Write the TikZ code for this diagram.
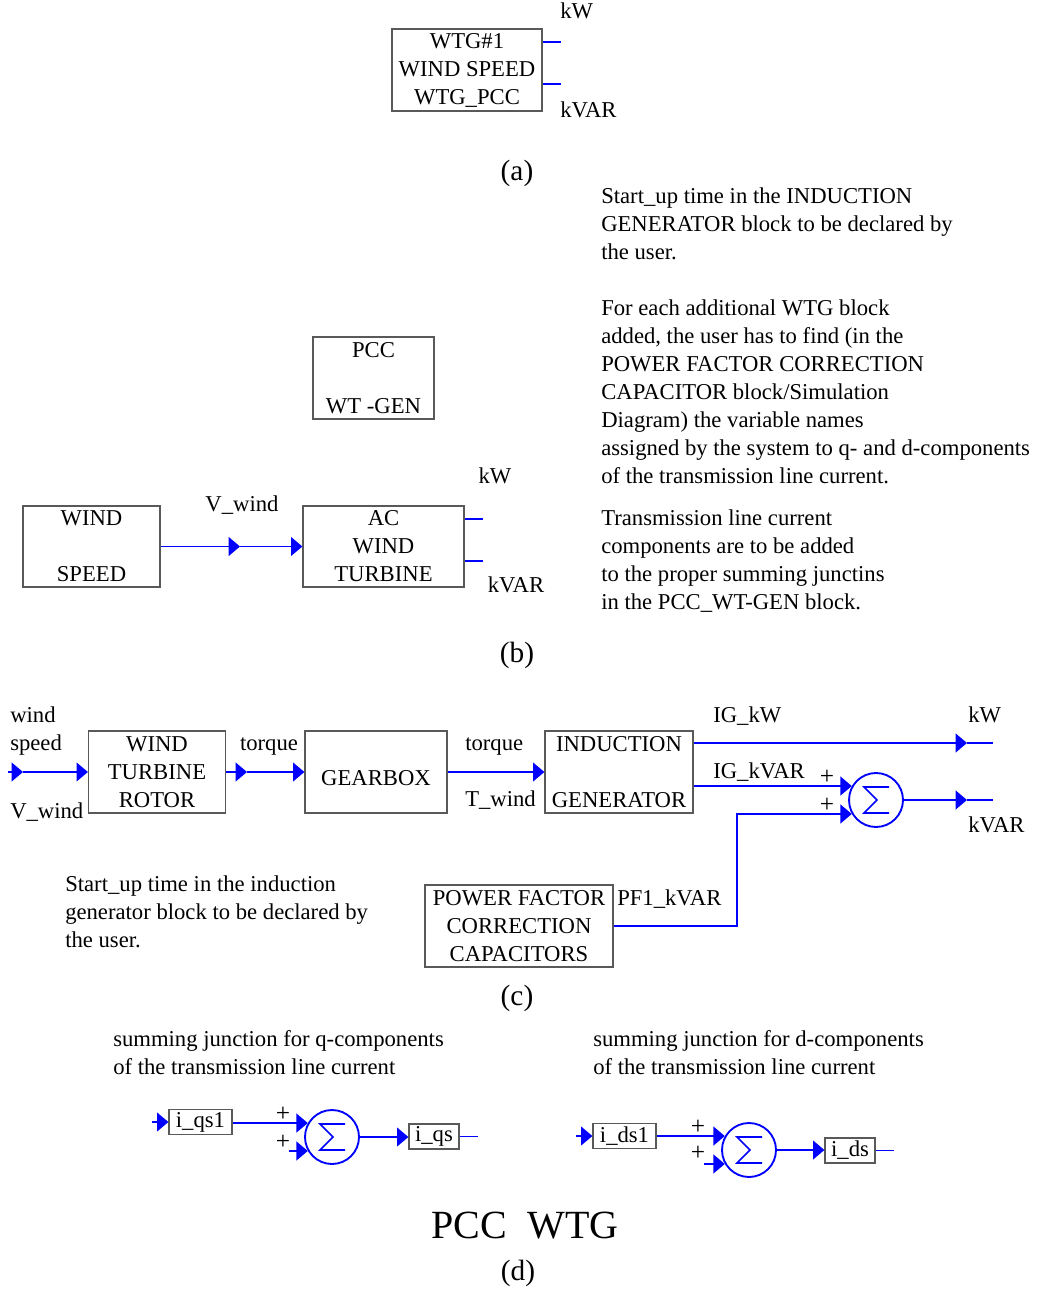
\documentclass[tikz,border=0pt]{standalone}
\usepackage{fontspec}
\setmainfont{Liberation Serif}
\usepackage{xcolor}
\definecolor{sigblue}{RGB}{0, 0, 255}
\usepackage{tikz}
\usetikzlibrary{arrows.meta}

\newdimen\px
\px=0.75pt
\newcommand{\txt}{\fontsize{17}{21}\selectfont}
\newcommand{\sigmamark}[1]{%
  \draw[sigblue, line width=1.2pt, line join=miter]
    ([shift={(13,-13)}]#1.center) -- ([shift={(-12,-13)}]#1.center)
    -- ([shift={(1,0)}]#1.center) -- ([shift={(-12,13)}]#1.center)
    -- ([shift={(13,13)}]#1.center);}

\tikzset{
  every node/.style={font=\txt, inner sep=0pt},
  blk/.style={draw=black!65, line width=0.9pt, align=center},
  sig/.style={sigblue, line width=1.4pt},
  tip/.style={-{Triangle[length=8.5pt,width=14pt]}},
  sumj/.style={circle, draw=sigblue, line width=1.4pt, minimum size=54\px},
  note/.style={align=left, anchor=north west},
  plus/.style={font=\fontsize{19}{21}\selectfont},
  partlabel/.style={font=\fontsize{22}{26}\selectfont},
}

\begin{document}
\begin{tikzpicture}[x=0.75pt, y=-0.75pt]
    \useasboundingbox (0,0) rectangle (1039,1291);

    % (a) WTG block
    \node[blk, minimum width=150\px, minimum height=82\px] (wtg) at (467,70) {WTG\#1\\WIND SPEED\\WTG\_PCC};
    \draw[sig] (wtg.east |- 0,42) -- ++(18,0);
    \draw[sig] (wtg.east |- 0,84) -- ++(18,0);
    \node[anchor=base west] (kwa) at (560,19) {kW};
    \node[anchor=base west] (kvara) at (560,118) {kVAR};
    \node[partlabel] (capa) at (517,173) {(a)};

    % Notes on the right
    \node[note] (notestart) at (601,188) {Start\_up time in the INDUCTION\\GENERATOR block to be declared by\\the user.};
    \node[note] (notepf) at (601,300) {For each additional WTG block\\added, the user has to find (in the\\POWER FACTOR CORRECTION\\CAPACITOR block/Simulation\\Diagram) the variable names\\assigned by the system to q- and d-components\\of the transmission line current.};
    \node[note] (notetl) at (601,510) {Transmission line current\\components are to be added\\to the proper summing junctins\\in the PCC\_WT-GEN block.};

    % (b) wind speed and AC wind turbine
    \node[blk, minimum width=121\px, minimum height=82\px] (pcc) at (373.5,378) {PCC\\[21pt]WT -GEN};
    \node[blk, minimum width=137\px, minimum height=81\px] (ws) at (91.5,546.5) {WIND\\[21pt]SPEED};
    \node[blk, minimum width=161\px, minimum height=81\px] (acwt) at (383.5,546.5) {AC\\WIND\\TURBINE};
    \coordinate (vwm) at (240,546.5);
    \draw[sig, tip] (ws.east) -- (vwm);
    \draw[sig, tip] (vwm) -- (acwt.west);
    \node[anchor=base] (vwb) at (242,511) {V\_wind};
    \draw[sig] (acwt.east |- 0,519) -- ++(18,0);
    \draw[sig] (acwt.east |- 0,561) -- ++(18,0);
    \node[anchor=base] (kwb) at (495,483) {kW};
    \node[anchor=base] (kvarb) at (516,592) {kVAR};
    \node[partlabel] (capb) at (517,655) {(b)};

    % (c) turbine chain
    \node[anchor=base west] (windl) at (10,722) {wind};
    \node[anchor=base west] (speedl) at (10,750) {speed};
    \node[anchor=base west] (vwc) at (10,818) {V\_wind};
    \node[blk, minimum width=137\px, minimum height=82\px] (wtr) at (157,772) {WIND\\TURBINE\\ROTOR};
    \node[blk, minimum width=142\px, minimum height=82\px] (gb) at (376,772) {\mbox{}\\GEARBOX};
    \node[blk, minimum width=148\px, minimum height=82\px] (ig) at (619,772) {INDUCTION\\[21pt]GENERATOR};
    \node[blk, minimum width=188\px, minimum height=82\px] (pfc) at (519,926) {POWER FACTOR\\CORRECTION\\CAPACITORS};
    \node[sumj] (sk) at (876,800) {};
    \sigmamark{sk}

    \coordinate (win) at (8,772);
    \coordinate (winm) at (23,772);
    \draw[sig, tip] (win) -- (winm);
    \draw[sig, tip] (winm) -- (wtr.west);
    \coordinate (tqm) at (247,772);
    \draw[sig, tip] (wtr.east) -- (tqm);
    \draw[sig, tip] (tqm) -- (gb.west);
    \draw[sig, tip] (gb.east) -- (ig.west);
    \node[anchor=base] (tq1) at (269,750) {torque};
    \node[anchor=base west] (tq2) at (465,750) {torque};
    \node[anchor=base west] (twind) at (465,806) {T\_wind};

    \coordinate (kwm) at (967,743);
    \draw[sig, tip] (ig.east |- kwm) -- (kwm);
    \draw[sig] (kwm) -- ++(26,0);
    \draw[sig, tip] (ig.east |- sk.150) -- (sk.150);
    \coordinate (pfx) at (737,926);
    \draw[sig, tip] (pfc.east) -- (pfx) |- (sk.210);
    \coordinate (kvm) at (967,800);
    \draw[sig, tip] (sk.east) -- (kvm);
    \draw[sig] (kvm) -- ++(26,0);

    \node[anchor=base west] (igkw) at (713,722) {IG\_kW};
    \node[anchor=base west] (igkvar) at (713,778) {IG\_kVAR};
    \node[anchor=base west] (kwc) at (968,722) {kW};
    \node[anchor=base west] (kvarc) at (968,832) {kVAR};
    \node[anchor=base west] (pfkvar) at (617,905) {PF1\_kVAR};
    \node[plus] (pk1) at (827,777) {+};
    \node[plus] (pk2) at (827,805) {+};
    \node[note] (notegen) at (65,875) {Start\_up time in the induction\\generator block to be declared by\\the user.};
    \node[partlabel] (capc) at (517,998) {(c)};

    % (d) summing junctions
    \node[note] (noteq) at (113,1030) {summing junction for q-components\\of the transmission line current};
    \node[note] (noted) at (593,1030) {summing junction for d-components\\of the transmission line current};

    \node[blk, minimum width=63\px, minimum height=25\px] (qs1) at (200.5,1122) {i\_qs1};
    \node[blk, minimum width=50\px, minimum height=25\px] (qs) at (434,1136.5) {i\_qs};
    \node[sumj] (sq) at (332,1137) {};
    \sigmamark{sq}
    \coordinate (qin) at (152,1122);
    \coordinate (qin2) at (289,1150);
    \draw[sig, tip] (qin) -- (qs1.west);
    \draw[sig, tip] (qs1.east |- sq.150) -- (sq.150);
    \draw[sig, tip] (qin2 |- sq.210) -- (sq.210);
    \draw[sig, tip] (sq.east) -- (sq.east -| qs.west);
    \draw[sig] (qs.east) -- ++(18,0);
    \node[plus] (pq1) at (283,1114) {+};
    \node[plus] (pq2) at (283,1142) {+};

    \node[blk, minimum width=63\px, minimum height=25\px] (ds1) at (624.5,1136) {i\_ds1};
    \node[blk, minimum width=50\px, minimum height=25\px] (ds) at (850,1150.5) {i\_ds};
    \node[sumj] (sd) at (749,1150) {};
    \sigmamark{sd}
    \coordinate (din) at (576,1136);
    \coordinate (din2) at (704,1163);
    \draw[sig, tip] (din) -- (ds1.west);
    \draw[sig, tip] (ds1.east |- sd.150) -- (sd.150);
    \draw[sig, tip] (din2 |- sd.210) -- (sd.210);
    \draw[sig, tip] (sd.east) -- (sd.east -| ds.west);
    \draw[sig] (ds.east) -- ++(18,0);
    \node[plus] (pd1) at (698,1127) {+};
    \node[plus] (pd2) at (698,1153) {+};

    \node[anchor=base, font=\fontsize{30}{34}\selectfont] (title) at (525,1238) {PCC~~WTG};
    \node[partlabel] (capd) at (518,1273) {(d)};
\end{tikzpicture}
\end{document}
